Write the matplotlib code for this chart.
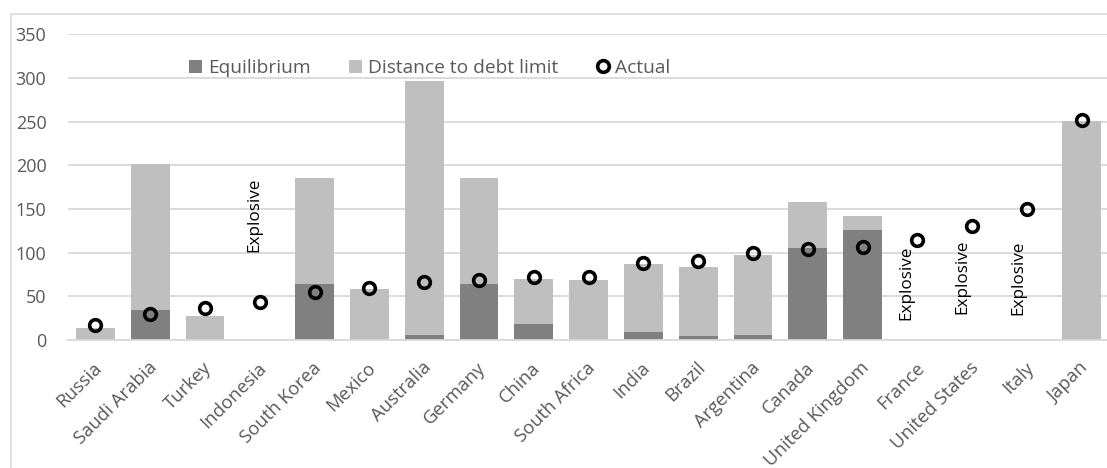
import numpy as np
import matplotlib
matplotlib.use("Agg")
import matplotlib.pyplot as plt
import matplotlib.transforms as mtransforms
from matplotlib.patches import Patch, Rectangle
from matplotlib.lines import Line2D

plt.rcParams['font.family'] = ['Open Sans', 'DejaVu Sans']

countries = ['Russia', 'Saudi Arabia', 'Turkey', 'Indonesia', 'South Korea', 'Mexico',
             'Australia', 'Germany', 'China', 'South Africa', 'India', 'Brazil',
             'Argentina', 'Canada', 'United Kingdom', 'France', 'United States',
             'Italy', 'Japan']
# debt limit = equilibrium + distance; NaN where debt path is explosive
equilibrium = [0, 34, 0, np.nan, 64, 0, 6, 64, 18, 0, 9, 5, 6, 105, 126,
               np.nan, np.nan, np.nan, 0]
debt_limit = [14, 202, 27, np.nan, 185, 58, 296, 185, 70, 69, 87, 84, 97, 158, 142,
              np.nan, np.nan, np.nan, 251]
actual = [17, 30, 37, 43, 55, 60, 66, 69, 72, 72, 88, 90, 100, 104, 107, 114, 130, 150, 252]

# where the "Explosive" notes go (x offset from the category, y in data units)
explosive_idx = [3, 15, 16, 17]
explosive_dx = [-0.1, -0.2, -0.18, -0.15]
explosive_y = [143, 65, 72, 71]

dark = '#808080'
light = '#BFBFBF'
grid_c = '#D9D9D9'
txt_c = '#595959'

x = np.arange(len(countries))
eq = np.nan_to_num(np.array(equilibrium, dtype=float))
dist = np.nan_to_num(np.array(debt_limit, dtype=float) - np.array(equilibrium, dtype=float))

fig = plt.figure(figsize=(11.07, 4.68), dpi=100)
ax = fig.add_axes([0.0614, 0.2735, 0.9406, 0.6532])

ax.bar(x, eq, width=0.71, color=dark, zorder=2)
ax.bar(x, dist, width=0.71, bottom=eq, color=light, zorder=2)
ax.plot(x, actual, linestyle='none', marker='o', markersize=8.4,
        markerfacecolor='none', markeredgecolor='black', markeredgewidth=2.6, zorder=4)

for i, dx, yv in zip(explosive_idx, explosive_dx, explosive_y):
    ax.text(i + dx, yv, 'Explosive', rotation=90, ha='center', va='center',
            fontsize=12.3, color='black', zorder=5)

ax.set_xlim(-0.5, len(countries) - 0.5)
ax.set_ylim(0, 350)
ax.set_yticks(np.arange(0, 351, 50))
ax.yaxis.grid(True, color=grid_c, linewidth=1.3, zorder=0)
ax.set_axisbelow(True)
for s in ['top', 'right', 'left']:
    ax.spines[s].set_visible(False)
ax.spines['bottom'].set_color(grid_c)
ax.spines['bottom'].set_linewidth(1.3)
ax.tick_params(axis='both', length=0, labelsize=13, colors=txt_c)
ax.tick_params(axis='y', pad=15.5)
ax.tick_params(axis='x', pad=18)
ax.set_xticks(x)
ax.set_xticklabels(countries, rotation=45, ha='right', va='center', rotation_mode='anchor')
shift = mtransforms.ScaledTranslation(4 / 100, 0, fig.dpi_scale_trans)
for lbl in ax.get_xticklabels():
    lbl.set_fontsize(13.3)
    lbl.set_transform(lbl.get_transform() + shift)

handles = [Patch(facecolor=dark), Patch(facecolor=light),
           Line2D([], [], linestyle='none', marker='o', markersize=8.4,
                  markerfacecolor='none', markeredgecolor='black', markeredgewidth=2.6)]
leg = fig.legend(handles, ['Equilibrium', 'Distance to debt limit', 'Actual'],
                 loc='center', bbox_to_anchor=(430 / 1107, 1 - 68 / 468), ncol=3,
                 frameon=False, fontsize=13.8, handlelength=0.68, handleheight=0.68,
                 handletextpad=0.3, columnspacing=2.0, labelcolor=txt_c)

# light frame around the chart area
fig.add_artist(Rectangle((11 / 1107, -0.2), 1.2, 1.2 - 14 / 468, transform=fig.transFigure,
                         fill=False, edgecolor=grid_c, linewidth=1.2))

fig.savefig('out.png', dpi=100)
